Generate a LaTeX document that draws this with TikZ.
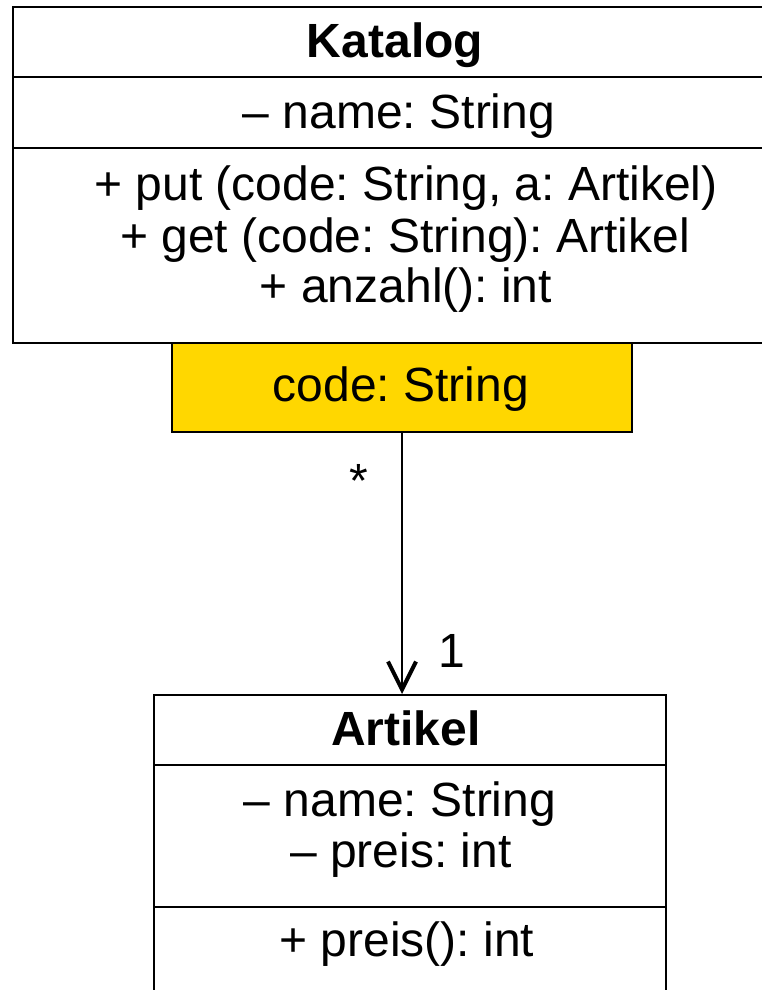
\documentclass[tikz,border=0pt]{standalone}
\usepackage{fontspec}
\setmainfont{Liberation Sans}
\usetikzlibrary{arrows.meta,positioning}
\definecolor{qualgold}{RGB}{255,215,0}
\frenchspacing

\begin{document}
\begin{tikzpicture}[x=1pt,y=-1pt,
    box/.style={draw,line width=2pt,inner sep=0pt},
    sep/.style={line width=2pt},
    txt/.style={anchor=base,inner sep=0pt,font=\fontsize{48}{51}\selectfont},
    assoc/.style={line width=2pt,-{Straight Barb[length=28pt,width=28pt,line width=4pt]}}]
    \useasboundingbox (0,0) rectangle (762,990);
    %% Katalog
    \node[box,anchor=north west,minimum width=776pt,minimum height=336pt] (katalog) at (12,6) {};
    \draw[sep] (katalog.west |- 0,77) -- (katalog.east |- 0,77);
    \draw[sep] (katalog.west |- 0,148) -- (katalog.east |- 0,148);
    \node[txt,font=\fontsize{48}{51}\selectfont\bfseries] (katTitle) at (395,58) {Katalog};
    \node[txt] (katName) at (399,128) {– name: String};
    \node[txt] (katPut) at (406,200) {+ put (code: String, a: Artikel)};
    \node[txt] (katGet) at (405,252) {+ get (code: String): Artikel};
    \node[txt] (katAnzahl) at (406,302) {+ anzahl(): int};
    %% qualifier
    \node[box,fill=qualgold,anchor=north,minimum width=460pt,minimum height=89pt] (qual) at (402,342) {};
    \node[txt] (qualCode) at (401,401) {code: String};
    %% Artikel
    \node[box,anchor=north,minimum width=512pt,minimum height=320pt] (artikel) at (410,694) {};
    \draw[sep] (artikel.west |- 0,765) -- (artikel.east |- 0,765);
    \draw[sep] (artikel.west |- 0,907) -- (artikel.east |- 0,907);
    \node[txt,font=\fontsize{48}{51}\selectfont\bfseries] (artTitle) at (406,745) {Artikel};
    \node[txt] (artName) at (400,816) {– name: String};
    \node[txt] (artPreis) at (401,867) {– preis: int};
    \node[txt] (artPreisOp) at (407,956) {+ preis(): int};
    %% association
    \draw[assoc] (qual.south) -- (qual.south |- artikel.north);
    \node[txt] (multMany) at (359,497) {*};
    \node[txt] (multOne) at (452,667) {1};
\end{tikzpicture}
\end{document}
